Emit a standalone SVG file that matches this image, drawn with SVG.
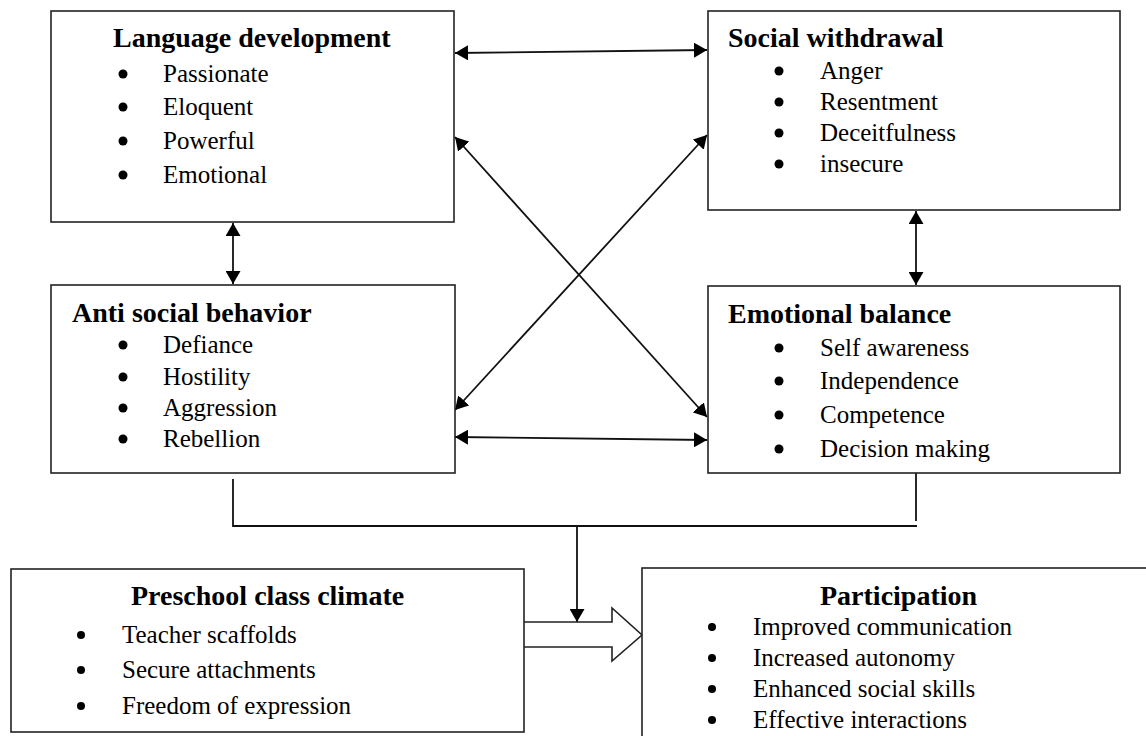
<svg xmlns="http://www.w3.org/2000/svg" width="1146" height="736" viewBox="0 0 1146 736">
<style>
.box{fill:#fff;stroke:#222;stroke-width:1.6}
.t{font-family:"Liberation Serif","Times New Roman",serif;font-size:28px;font-weight:bold;fill:#000}
.i{font-family:"Liberation Serif","Times New Roman",serif;font-size:25px;fill:#000}
.b{fill:#000}
.c{fill:none;stroke:#111;stroke-width:1.8}
.blk{fill:#fff;stroke:#222;stroke-width:1.6}
</style>
<defs>
<marker id="ah" markerUnits="userSpaceOnUse" markerWidth="13" markerHeight="15" viewBox="0 0 13 15" refX="13" refY="7.5" orient="auto-start-reverse">
<path d="M0,0 L13,7.5 L0,15 z" fill="#000"/>
</marker>
</defs>
<rect width="1146" height="736" fill="#fff"/>
<g id="connectors">
<line class="c" x1="233" y1="223" x2="233" y2="284" marker-start="url(#ah)" marker-end="url(#ah)"/>
<line class="c" x1="916" y1="211" x2="916" y2="285" marker-start="url(#ah)" marker-end="url(#ah)"/>
<line class="c" x1="455" y1="53" x2="707" y2="50" marker-start="url(#ah)" marker-end="url(#ah)"/>
<line class="c" x1="455" y1="437" x2="707" y2="440" marker-start="url(#ah)" marker-end="url(#ah)"/>
<line class="c" x1="455" y1="137" x2="707" y2="417" marker-start="url(#ah)" marker-end="url(#ah)"/>
<line class="c" x1="707" y1="135" x2="455" y2="410" marker-start="url(#ah)" marker-end="url(#ah)"/>
<polyline class="c" points="233,479 233,526 917,526"/>
<line class="c" x1="916" y1="473" x2="916" y2="521"/>
<line class="c" x1="577" y1="526" x2="577" y2="622" marker-end="url(#ah)"/>
<polyline class="blk" points="524,622 612,622 612,608 642,635 612,661 612,647 524,647"/>
</g>
<g id="language-development">
<rect class="box" x="51" y="11" width="403" height="211"/>
<text class="t" x="113" y="47">Language development</text>
<circle class="b" cx="123" cy="74" r="4.5"/><text class="i" x="163" y="82">Passionate</text>
<circle class="b" cx="123" cy="107" r="4.5"/><text class="i" x="163" y="115">Eloquent</text>
<circle class="b" cx="123" cy="141" r="4.5"/><text class="i" x="163" y="149">Powerful</text>
<circle class="b" cx="123" cy="175" r="4.5"/><text class="i" x="163" y="183">Emotional</text>
</g>
<g id="social-withdrawal">
<rect class="box" x="708" y="11" width="412" height="199"/>
<text class="t" x="728" y="47">Social withdrawal</text>
<circle class="b" cx="779" cy="71" r="4.5"/><text class="i" x="820" y="79">Anger</text>
<circle class="b" cx="779" cy="102" r="4.5"/><text class="i" x="820" y="110">Resentment</text>
<circle class="b" cx="779" cy="133" r="4.5"/><text class="i" x="820" y="141">Deceitfulness</text>
<circle class="b" cx="779" cy="164" r="4.5"/><text class="i" x="820" y="172">insecure</text>
</g>
<g id="anti-social-behavior">
<rect class="box" x="51" y="285" width="404" height="188"/>
<text class="t" x="72" y="322">Anti social behavior</text>
<circle class="b" cx="123" cy="345" r="4.5"/><text class="i" x="163" y="353">Defiance</text>
<circle class="b" cx="123" cy="377" r="4.5"/><text class="i" x="163" y="385">Hostility</text>
<circle class="b" cx="123" cy="408" r="4.5"/><text class="i" x="163" y="416">Aggression</text>
<circle class="b" cx="123" cy="439" r="4.5"/><text class="i" x="163" y="447">Rebellion</text>
</g>
<g id="emotional-balance">
<rect class="box" x="708" y="286" width="412" height="187"/>
<text class="t" x="728" y="323">Emotional balance</text>
<circle class="b" cx="779" cy="348" r="4.5"/><text class="i" x="820" y="356">Self awareness</text>
<circle class="b" cx="779" cy="381" r="4.5"/><text class="i" x="820" y="389">Independence</text>
<circle class="b" cx="779" cy="415" r="4.5"/><text class="i" x="820" y="423">Competence</text>
<circle class="b" cx="779" cy="449" r="4.5"/><text class="i" x="820" y="457">Decision making</text>
</g>
<g id="preschool-class-climate">
<rect class="box" x="11" y="569" width="513" height="163"/>
<text class="t" x="131" y="605">Preschool class climate</text>
<circle class="b" cx="81" cy="635" r="4"/><text class="i" x="122" y="643">Teacher scaffolds</text>
<circle class="b" cx="81" cy="670" r="4"/><text class="i" x="122" y="678">Secure attachments</text>
<circle class="b" cx="81" cy="706" r="4"/><text class="i" x="122" y="714">Freedom of expression</text>
</g>
<g id="participation">
<rect class="box" x="642" y="568" width="520" height="180"/>
<text class="t" x="820" y="605">Participation</text>
<circle class="b" cx="712" cy="627" r="4"/><text class="i" x="753" y="635">Improved communication</text>
<circle class="b" cx="712" cy="658" r="4"/><text class="i" x="753" y="666">Increased autonomy</text>
<circle class="b" cx="712" cy="689" r="4"/><text class="i" x="753" y="697">Enhanced social skills</text>
<circle class="b" cx="712" cy="720" r="4"/><text class="i" x="753" y="728">Effective interactions</text>
</g>
</svg>
